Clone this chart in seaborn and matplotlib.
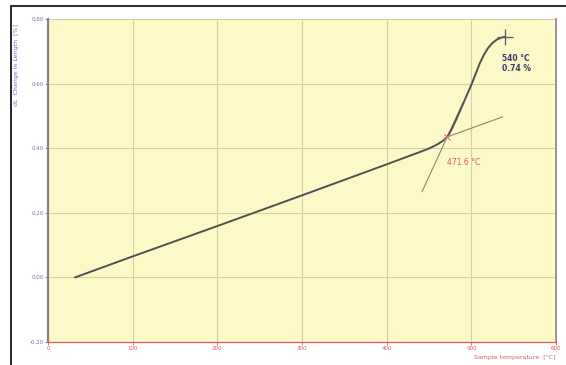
"""Dilatometer curve: change in length vs sample temperature"""
import matplotlib
matplotlib.use("Agg")
import matplotlib.pyplot as plt
from matplotlib.lines import Line2D
import pandas as pd
import seaborn as sns

temperature = [32, 100, 200, 300, 400, 439, 450, 460, 466, 471.6, 477, 482,
               487, 492, 497, 501, 506, 510, 515, 520, 525, 530, 535, 540]
dl_change = [0.0, 0.065, 0.159, 0.254, 0.350, 0.388, 0.399, 0.412, 0.422,
             0.435, 0.460, 0.488, 0.518, 0.548, 0.578, 0.603, 0.636, 0.663,
             0.690, 0.711, 0.726, 0.736, 0.742, 0.745]

# tangents used for the onset evaluation
tangent_low_t = [471.6, 537]
tangent_low_v = [0.435, 0.497]
tangent_steep_t = [441.7, 490]
tangent_steep_v = [0.265, 0.540]

onset_t, onset_v = 471.6, 0.435
end_t, end_v = 540, 0.745

x_ticks = [0, 100, 200, 300, 400, 500, 600]
y_ticks = [-0.20, 0.00, 0.20, 0.40, 0.60, 0.80]

PURPLE = "#7a6cc8"
RED = "#e05a5a"

sns.set_style("ticks")
fig = plt.figure(figsize=(5.66, 3.65), dpi=100)
ax = fig.add_axes([48 / 566, 23 / 365, 508 / 566, 323 / 365])
ax.set_facecolor("#fdf8c8")

df = pd.DataFrame({"t": temperature, "dl": dl_change})
sns.lineplot(data=df, x="t", y="dl", ax=ax, color="#505050", lw=1.4,
             zorder=4)
sns.lineplot(x=tangent_low_t, y=tangent_low_v, ax=ax, color="#8c8c64",
             lw=0.8, zorder=3)
sns.lineplot(x=tangent_steep_t, y=tangent_steep_v, ax=ax, color="#8c8c64",
             lw=0.8, zorder=3)

ax.plot([onset_t], [onset_v], marker="x", ms=5, mew=0.9, color="#e08080",
        zorder=5)
ax.plot([end_t], [end_v], marker="+", ms=12, mew=0.9, color="#5a5a5a",
        zorder=5)
ax.text(end_t - 4, end_v - 0.083, "540 °C\n0.74 %", fontsize=5.5,
        color="#3c3c6a", fontweight="semibold", va="center", ha="left",
        linespacing=1.2)
ax.text(onset_t, onset_v - 0.08, "471.6 °C", fontsize=5.5, color=RED,
        va="center", ha="left")

ax.set_xlim(0, 600)
ax.set_ylim(-0.20, 0.80)
ax.set_xticks(x_ticks)
ax.set_yticks(y_ticks)
ax.set_xticklabels([str(v) for v in x_ticks])
ax.set_yticklabels(["%.2f" % v for v in y_ticks])
ax.tick_params(axis="x", colors=RED, labelsize=4, length=2, width=0.6, pad=1)
ax.tick_params(axis="y", colors=PURPLE, labelsize=4, length=2, width=0.6,
               pad=1)
ax.grid(True, color="#d6d2a6", lw=0.8)
ax.set_xlabel("")
ax.set_ylabel("")

ax.spines["top"].set_visible(False)
ax.spines["left"].set_color("#8c7f80")
ax.spines["left"].set_linewidth(1.6)
ax.spines["bottom"].set_color(RED)
ax.spines["bottom"].set_linewidth(0.9)
ax.spines["right"].set_visible(True)
ax.spines["right"].set_color("#a09090")
ax.spines["right"].set_linewidth(1.4)

fig.text(17 / 566, 1 - 65 / 365, "dL  Change in Length  [%]", rotation=90,
         fontsize=4.5, color=PURPLE, ha="center", va="center")
fig.text(556 / 566, 1 - 358 / 365, "Sample temperature  [°C]", fontsize=4.5,
         color=RED, ha="right", va="center")

# outer frame, left and top edges
fig.add_artist(Line2D([10.5 / 566, 10.5 / 566], [0, 1 - 5.5 / 365],
                      color="black", lw=1.2))
fig.add_artist(Line2D([10.5 / 566, 1], [1 - 5.5 / 365, 1 - 5.5 / 365],
                      color="#333333", lw=1.5))

fig.savefig("out.png", dpi=100)
